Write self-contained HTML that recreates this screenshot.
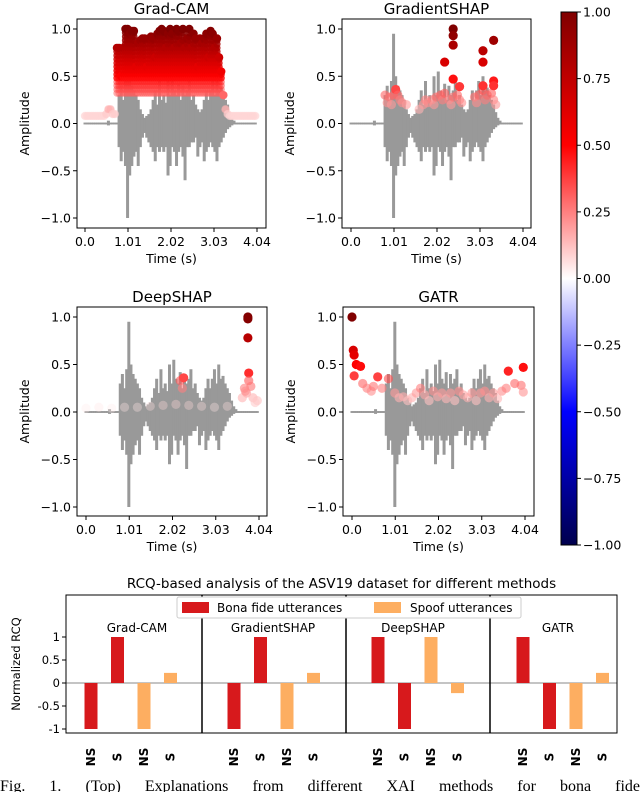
<!DOCTYPE html>
<html><head><meta charset="utf-8"><style>
html,body{margin:0;padding:0;background:#fff;width:640px;height:792px;overflow:hidden;position:relative}
svg{display:block;font-family:"DejaVu Sans","Liberation Sans",sans-serif}
#cap{position:absolute;left:0;top:777px;width:640px;font-family:"Liberation Serif",serif;font-size:16px;text-align:justify;text-align-last:justify;white-space:nowrap;line-height:20px}
</style></head><body>
<svg id="fig" width="640" height="792" viewBox="0 0 640 792" xmlns="http://www.w3.org/2000/svg">
<defs>
<linearGradient id="cbg" x1="0" y1="0" x2="0" y2="1">
<stop offset="0" stop-color="#800000"/><stop offset="0.25" stop-color="#ff0000"/><stop offset="0.5" stop-color="#ffffff"/><stop offset="0.75" stop-color="#0000ff"/><stop offset="1" stop-color="#00004d"/>
</linearGradient>
</defs>
</svg>
<div id="cap">Fig. 1. (Top) Explanations from different XAI methods for bona fide</div>
<script>
// ---- waveform data (time step 0.05 s, 0..4.0) ----
const waveTimes = Array.from({length:81},(_, i)=>+(i*0.05).toFixed(2));
const wavePos = [0.01,0.01,0.01,0.01,0.01,0.01,0.01,0.01,0.01,0.01,0.01,0.03,0.01,0.01,0.01,0.01,0.3,0.4,0.25,0.45,0.95,0.5,0.4,0.35,0.3,0.25,0.15,0.1,0.06,0.08,0.1,0.15,0.25,0.35,0.2,0.45,0.25,0.3,0.22,0.5,0.3,0.55,0.35,0.3,0.42,0.25,0.4,0.3,0.35,0.45,0.25,0.3,0.2,0.15,0.12,0.15,0.25,0.35,0.25,0.35,0.45,0.3,0.5,0.35,0.38,0.3,0.25,0.2,0.12,0.06,0.03,0.01,0.01,0.01,0.01,0.01,0.01,0.01,0.01,0.01,0.01];
const waveNeg = [-0.01,-0.01,-0.01,-0.01,-0.01,-0.01,-0.01,-0.01,-0.01,-0.01,-0.01,-0.02,-0.01,-0.01,-0.01,-0.01,-0.25,-0.4,-0.3,-0.45,-1.0,-0.55,-0.45,-0.35,-0.3,-0.45,-0.25,-0.15,-0.1,-0.15,-0.2,-0.25,-0.3,-0.4,-0.25,-0.3,-0.25,-0.3,-0.25,-0.55,-0.45,-0.25,-0.3,-0.45,-0.3,-0.25,-0.35,-0.6,-0.25,-0.25,-0.2,-0.2,-0.15,-0.35,-0.25,-0.2,-0.4,-0.3,-0.25,-0.2,-0.25,-0.3,-0.4,-0.25,-0.2,-0.15,-0.1,-0.06,-0.04,-0.02,-0.01,-0.01,-0.01,-0.01,-0.01,-0.01,-0.01,-0.01,-0.01,-0.01,-0.01];
// ---- Grad-CAM attribution envelope (0.05 s step) ----
const gcVals = [0.08,0.08,0.08,0.08,0.08,0.08,0.08,0.08,0.08,0.08,0.1,0.15,0.15,0.1,0.1,0.8,0.8,0.5,0.8,1.0,1.0,0.95,0.98,0.98,0.6,0.85,0.88,0.9,0.9,0.6,0.9,0.92,0.9,0.7,0.95,0.98,1.0,0.98,0.8,0.95,1.0,0.95,0.8,1.0,0.98,0.85,1.0,0.8,0.9,1.0,0.8,0.95,0.9,0.6,0.9,0.85,0.9,0.95,0.7,0.98,0.95,0.8,0.9,0.7,0.55,0.3,0.15,0.1,0.08,0.08,0.08,0.08,0.08,0.08,0.08,0.08,0.08,0.08,0.08,0.08,0.08];
// ---- GradientSHAP points ----
const gsTimes = [0.8,0.85,0.9,0.95,1.0,1.05,1.1,1.15,1.2,1.3,1.6,1.7,1.75,1.8,1.9,1.95,2.0,2.1,2.15,2.2,2.3,2.35,2.4,2.5,2.55,2.6,2.9,2.95,3.0,3.1,3.15,3.2,3.3,3.35,3.4,2.2,2.4,2.4,2.4,2.4,2.55,3.1,3.1,3.1,3.35,3.35,3.35];
const gsVals  = [0.3,0.22,0.28,0.2,0.3,0.36,0.3,0.25,0.22,0.2,0.15,0.2,0.25,0.22,0.25,0.2,0.28,0.3,0.25,0.32,0.25,0.2,0.28,0.3,0.25,0.22,0.28,0.22,0.3,0.35,0.25,0.3,0.32,0.25,0.2,0.65,1.0,0.93,0.83,0.47,0.39,0.77,0.65,0.4,0.88,0.45,0.4];
// ---- DeepSHAP points ----
const dsTimes = [0.0,0.3,0.6,0.9,1.2,1.5,1.8,2.1,2.4,2.7,3.0,3.3,2.2,2.25,2.28,3.75,3.78,3.78,3.78,3.8,3.8,3.85,3.7,3.9,4.0,3.95,3.65,3.72];
const dsVals  = [0.04,0.05,0.04,0.05,0.05,0.06,0.07,0.08,0.07,0.06,0.05,0.06,0.33,0.25,0.36,0.2,1.0,0.98,0.78,0.41,0.33,0.27,0.25,0.15,0.12,0.1,0.15,0.22];
// ---- GATR points ----
const gaTimes = [0.0,0.03,0.05,0.1,0.2,0.05,0.25,0.35,0.45,0.5,0.6,0.7,0.85,1.0,1.1,1.2,1.3,1.4,1.5,1.6,1.7,1.8,1.9,2.0,2.1,2.2,2.3,2.4,2.5,2.6,2.7,2.8,2.9,3.0,3.1,3.2,3.3,3.4,3.5,3.6,3.65,3.8,3.95,4.0,4.0];
const gaVals  = [1.0,0.65,0.6,0.5,0.48,0.38,0.3,0.25,0.22,0.27,0.37,0.25,0.35,0.2,0.15,0.16,0.12,0.15,0.2,0.25,0.18,0.12,0.22,0.16,0.2,0.14,0.2,0.12,0.22,0.18,0.15,0.2,0.12,0.2,0.22,0.15,0.2,0.14,0.22,0.25,0.43,0.3,0.28,0.21,0.47];
// ---- bottom bar chart ----
const methods = ["Grad-CAM","GradientSHAP","DeepSHAP","GATR"];
const barCats = ["NS","S","NS","S"];
const bonaNS = [-1,-1,1,1];
const bonaS  = [1,1,-1,-1];
const spoofNS = [-1,-1,1,-1];
const spoofS  = [0.22,0.22,-0.22,0.22];
const rcqTicks = [1,0.5,0,-0.5,-1];
const rcqTickLabels = ["1","0.5","0","-0.5","-1"];
const ampTicks = [1,0.5,0,-0.5,-1];
const ampTickLabels = ["1.0","0.5","0.0","\u22120.5","\u22121.0"];
const timeTicks = [0,1.01,2.02,3.03,4.04];
const timeTickLabels = ["0.0","1.01","2.02","3.03","4.04"];
const cbTicks = [1,0.75,0.5,0.25,0,-0.25,-0.5,-0.75,-1];
const cbTickLabels = ["1.00","0.75","0.50","0.25","0.00","\u22120.25","\u22120.50","\u22120.75","\u22121.00"];

const NS="http://www.w3.org/2000/svg";
const svg=document.getElementById('fig');
function mk(tag,attrs,parent,text){const e=document.createElementNS(NS,tag);for(const k in attrs)e.setAttribute(k,attrs[k]);if(text!==undefined)e.textContent=text;(parent||svg).appendChild(e);return e;}
function cmap(v){v=Math.max(-1,Math.min(1,v));let r,g,b;
 if(v>=0.5){r=255-(v-0.5)/0.5*127;g=0;b=0;}else if(v>=0){const f=1-v/0.5;r=255;g=255*f;b=255*f;}
 else if(v>=-0.5){const f=1+v/0.5;r=255*f;g=255*f;b=255;}else{r=0;g=0;b=255-(-v-0.5)/0.5*178;}
 return `rgb(${r|0},${g|0},${b|0})`;}

function panel(cfg){
 const g=mk('g',{});
 
 
 const xs=t=>cfg.x0+(t/4.04)*(cfg.x1-cfg.x0);
 const ys=a=>cfg.y0+(1-a)/2*(cfg.ym1-cfg.y0);
 const wg=mk('g',{},g);
 
 
 for(let i=0;i<waveTimes.length;i++){
  const l=mk('line',{x1:xs(waveTimes[i]),x2:xs(waveTimes[i]),y1:ys(wavePos[i]),y2:ys(waveNeg[i]),stroke:'#999',"stroke-width":3},wg);
  
  
 }
 const sg=mk('g',{},g);
 
 
 if(cfg.stack){
  for(let i=0;i<waveTimes.length;i++){
   const v=cfg.stack[i];const lo=v>0.35?0.32:v;
   for(let a=lo;a<=v+1e-9;a+=0.04){
    const c=mk('circle',{cx:xs(waveTimes[i]),cy:ys(a),r:3.6,fill:cmap(a),"fill-opacity":a<0.45?0.5:0.85},sg);
    
    
   }
   const c=mk('circle',{cx:xs(waveTimes[i]),cy:ys(v),r:4.2,fill:cmap(v),"fill-opacity":v<0.2?0.6:1},sg);
   
   
  }
 } else {
  for(let i=0;i<cfg.pt.length;i++){
   const v=cfg.pv[i];
   const c=mk('circle',{cx:xs(cfg.pt[i]),cy:ys(v),r:4.6,fill:cmap(v),"fill-opacity":v>0.35?1:(v<0.1?0.35:0.6)},sg);
   
   
  }
 }
 const box=mk('rect',{x:cfg.bl,y:cfg.bt,width:cfg.br-cfg.bl,height:cfg.bb-cfg.bt,fill:'none',stroke:'#000','stroke-width':1},g);
 
 
 ampTicks.forEach((a,i)=>{
  mk('line',{x1:cfg.bl-4,x2:cfg.bl,y1:ys(a),y2:ys(a),stroke:'#000'},g);
  const t=mk('text',{x:cfg.bl-6,y:ys(a)+4.5,'font-size':12.5,'text-anchor':'end'},g,ampTickLabels[i]);
  
  
 });
 timeTicks.forEach((tt,i)=>{
  mk('line',{x1:xs(tt),x2:xs(tt),y1:cfg.bb,y2:cfg.bb+4,stroke:'#000'},g);
  const t=mk('text',{x:xs(tt),y:cfg.bb+18,'font-size':12.5,'text-anchor':'middle'},g,timeTickLabels[i]);
  
  
 });
 const xl=mk('text',{x:(cfg.bl+cfg.br)/2,y:cfg.bb+35,'font-size':12.5,'text-anchor':'middle'},g,'Time (s)');
 
 
 const yc=(cfg.bt+cfg.bb)/2, yx=cfg.bl-48;
 const yl=mk('text',{x:yx,y:yc,'font-size':12.5,'text-anchor':'middle',transform:`rotate(-90 ${yx} ${yc})`},g,'Amplitude');
 
 
 const ti=mk('text',{x:(cfg.bl+cfg.br)/2,y:cfg.bt-5,'font-size':15,'text-anchor':'middle'},g,cfg.title);
 
 
}
panel({name:'grad-cam',title:'Grad-CAM',bl:77,br:266,bt:19,bb:228,x0:85,x1:257,y0:29,ym1:218,stack:gcVals});
panel({name:'gradientshap',title:'GradientSHAP',bl:342,br:531,bt:19,bb:228,x0:351,x1:523,y0:29,ym1:218,pt:gsTimes,pv:gsVals});
panel({name:'deepshap',title:'DeepSHAP',bl:77,br:267,bt:307,bb:516,x0:86,x1:259,y0:317,ym1:507,pt:dsTimes,pv:dsVals});
panel({name:'gatr',title:'GATR',bl:343,br:534,bt:307,bb:516,x0:352,x1:525,y0:317,ym1:507,pt:gaTimes,pv:gaVals});

(function(){
 const g=mk('g',{});
 
 
 const top=12,bot=545,cx=561,cw=16;
 const cys=v=>top+(1-v)/2*(bot-top);
 mk('rect',{x:cx,y:top,width:cw,height:bot-top,fill:'url(#cbg)',stroke:'#000','stroke-width':1},g);
 cbTicks.forEach((v,i)=>{
  mk('line',{x1:cx+cw,x2:cx+cw+4,y1:cys(v),y2:cys(v),stroke:'#000'},g);
  const t=mk('text',{x:cx+cw+6,y:cys(v)+4.5,'font-size':12.5},g,cbTickLabels[i]);
  
  
 });
})();

(function(){
 const g=mk('g',{});
 
 
 const L=66,R=617,T=595,B=733;
 const ys=v=>683-v*46;
 const ti=mk('text',{x:(L+R)/2,y:588,'font-size':13.5,'text-anchor':'middle'},g,'RCQ-based analysis of the ASV19 dataset for different methods');
 
 
 mk('line',{x1:L,x2:R,y1:ys(0),y2:ys(0),stroke:'#888','stroke-width':1},g);
 const groupStart=[91,234,378,523], step=26.5, bw=13;
 methods.forEach((m,gi)=>{
  const vals=[[bonaNS[gi],'#d7191c'],[bonaS[gi],'#d7191c'],[spoofNS[gi],'#fdae61'],[spoofS[gi],'#fdae61']];
  vals.forEach((p,k)=>{
   const cxp=groupStart[gi]+k*step;
   const y0=ys(0),y1=ys(p[0]);
   const r=mk('rect',{x:cxp-bw/2,y:Math.min(y0,y1),width:bw,height:Math.abs(y1-y0),fill:p[1]},g);
   
   
   const ly=757;
   const t=mk('text',{x:cxp+4,y:ly,'font-size':12,'font-weight':'bold','text-anchor':'middle',transform:`rotate(-90 ${cxp+4} ${ly})`},g,barCats[k]);
   
   
  });
  const cx=[137,273,413,558][gi];
  const gl=mk('text',{x:cx,y:632,'font-size':12,'text-anchor':'middle'},g,m);
  
  
 });
 [202,346,490].forEach(x=>{const d=mk('line',{x1:x,x2:x,y1:T,y2:B,stroke:'#000','stroke-width':1.5},g);
  
  });
 mk('rect',{x:L,y:T,width:R-L,height:B-T,fill:'none',stroke:'#000','stroke-width':1},g);
 rcqTicks.forEach((v,i)=>{
  mk('line',{x1:L-4,x2:L,y1:ys(v),y2:ys(v),stroke:'#000'},g);
  const t=mk('text',{x:L-6,y:ys(v)+4,'font-size':11.5,'text-anchor':'end'},g,rcqTickLabels[i]);
  
  
 });
 const yl=mk('text',{x:20,y:664,'font-size':11.5,'text-anchor':'middle',transform:'rotate(-90 20 664)'},g,'Normalized RCQ');
 
 
 const lg=mk('g',{},g);
 
 
 mk('rect',{x:177,y:597,width:344,height:21,fill:'#fff',stroke:'#ccc',rx:2},lg);
 mk('rect',{x:182,y:602,width:27,height:11,fill:'#d7191c'},lg);
 const l1=mk('text',{x:217,y:612,'font-size':12},lg,'Bona fide utterances');
 
 
 mk('rect',{x:374,y:602,width:27,height:11,fill:'#fdae61'},lg);
 const l2=mk('text',{x:410,y:612,'font-size':12},lg,'Spoof utterances');
 
 
})();
</script>
</body></html>
